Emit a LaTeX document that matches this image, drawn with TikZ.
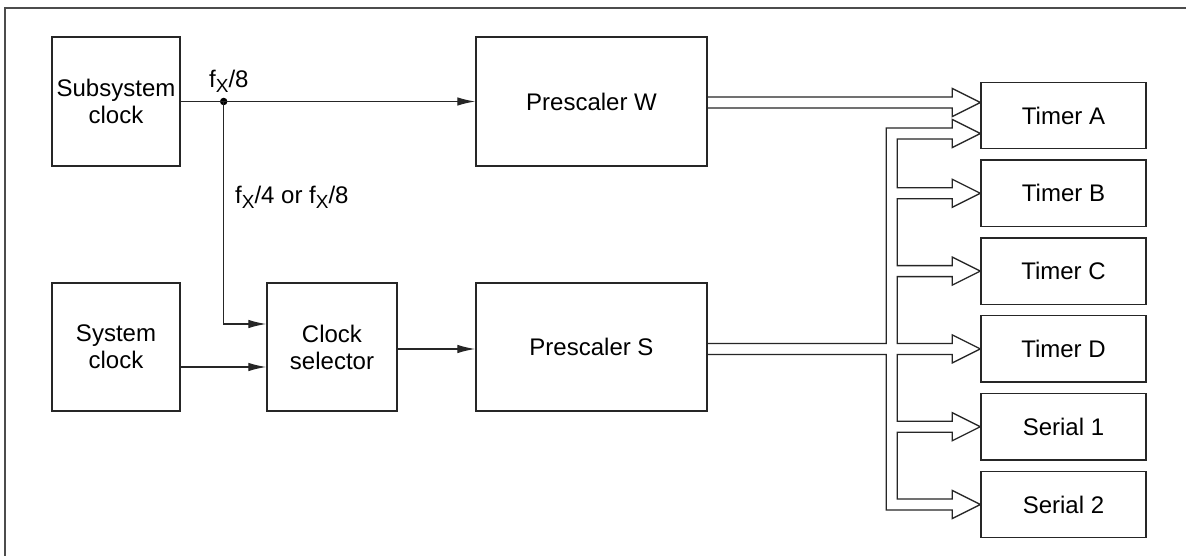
\documentclass[tikz,border=0pt]{standalone}
\usepackage{fontspec}
\setmainfont{Liberation Sans}
\usetikzlibrary{calc,arrows.meta}
\newcommand\fxsub{f\raisebox{-4.5pt}{\fontsize{19}{19}\selectfont X}}
\begin{document}
\begin{tikzpicture}[x=1pt,y=-1pt,
  box/.style={draw=black!85, line width=1.4pt, inner sep=0pt, align=center,
    font=\fontsize{24}{27}\selectfont},
  tbox/.style={box, minimum width=165pt, minimum height=66.5pt},
  conn/.style={draw=black!85, line width=1.3pt, -{Latex[length=18pt,width=8.5pt]}},
  bus/.style={draw=black!85, line width=1.3pt, line join=miter},
  lab/.style={inner sep=0pt, font=\fontsize{24}{27}\selectfont},
  dotst/.style={circle, fill=black, inner sep=0pt, minimum size=7.5pt},
  headto/.style 2 args={insert path={
    -- ($(#1.west)+(-28,#2-5.5)$) -- ($(#1.west)+(-28,#2-14)$)
    -- ($(#1.west)+(0,#2)$) -- ($(#1.west)+(-28,#2+14)$)
    -- ($(#1.west)+(-28,#2+5.5)$)}}
]
\useasboundingbox (0,0) rectangle (1186,556);
\fill[white] (0,0) rectangle (1186,556);
% frame
\draw[line width=1.4pt, black!70] (5,556) -- (5,8) -- (1186,8);

% blocks
\node[box, minimum width=128pt, minimum height=129pt] (sub) at (116,101.5) {Subsystem\\clock};
\node[box, minimum width=128pt, minimum height=128pt] (sys) at (116,347) {System\\clock};
\node[box, minimum width=130pt, minimum height=128pt] (sel) at (332,347) {Clock\\selector};
\node[box, minimum width=231pt, minimum height=129pt] (pw) at (591.5,101.5) {Prescaler W};
\node[box, minimum width=231pt, minimum height=128pt] (ps) at (591.5,347) {Prescaler S};

\node[tbox] (tA) at (1063.5,115.5) {Timer A};
\node[tbox] (tB) at (1063.5,193.3) {Timer B};
\node[tbox] (tC) at (1063.5,271.1) {Timer C};
\node[tbox] (tD) at (1063.5,348.9) {Timer D};
\node[tbox] (tE) at (1063.5,426.7) {Serial 1};
\node[tbox] (tF) at (1063.5,504.5) {Serial 2};

% single-line connectors
\path (sub.east) ++(43,0) node[dotst] (j) {};
\draw[conn] (sub.east) -- (sub.east -| pw.west);
\draw[conn] (j.center) |- ($(sel.west)+(0,-23)$);
\draw[conn] ($(sys.east)+(0,20)$) -- ($(sel.west)+(0,20)$);
\draw[conn] ($(sel.east)+(0,2)$) -- ($(ps.west)+(0,2)$);

% labels
\node[lab, anchor=base west] (l1) at (209,88) {\fxsub/8};
\node[lab, anchor=base west] (l2) at (235,204) {\fxsub/4 or \fxsub/8};

% hollow bus from Prescaler W
\draw[bus] ($(pw.east|-tA.west)+(0,-18.5)$) [headto={tA}{-13}]
  -- ($(pw.east|-tA.west)+(0,-7.5)$);

% hollow bus from Prescaler S
\draw[bus] ($(ps.east|-tD.west)+(0,-5.5)$) -- ($(tD.west)+(-94,-5.5)$)
  -- ($(tA.west)+(-94,12.5)$) [headto={tA}{18}]
  -- ($(tA.west)+(-83,23.5)$) -- ($(tB.west)+(-83,-5.5)$) [headto={tB}{0}]
  -- ($(tB.west)+(-83,5.5)$) -- ($(tC.west)+(-83,-5.5)$) [headto={tC}{0}]
  -- ($(tC.west)+(-83,5.5)$) -- ($(tD.west)+(-83,-5.5)$) [headto={tD}{0}]
  -- ($(tD.west)+(-83,5.5)$) -- ($(tE.west)+(-83,-5.5)$) [headto={tE}{0}]
  -- ($(tE.west)+(-83,5.5)$) -- ($(tF.west)+(-83,-5.5)$) [headto={tF}{0}]
  -- ($(tF.west)+(-94,5.5)$) -- ($(tD.west)+(-94,5.5)$)
  -- ($(ps.east|-tD.west)+(0,5.5)$);
\end{tikzpicture}
\end{document}
